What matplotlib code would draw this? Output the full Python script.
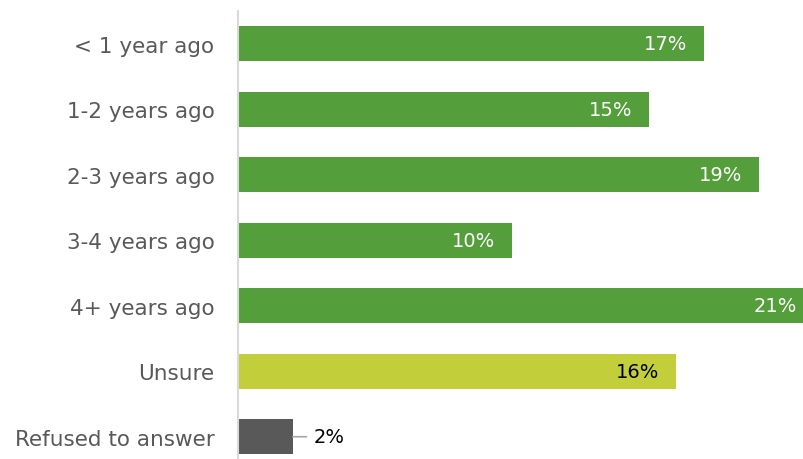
import matplotlib.pyplot as plt

# survey categories and shares (%)
categories = ['< 1 year ago', '1-2 years ago', '2-3 years ago', '3-4 years ago',
              '4+ years ago', 'Unsure', 'Refused to answer']
values = [17, 15, 19, 10, 21, 16, 2]
barColors = ['#549E3B', '#549E3B', '#549E3B', '#549E3B', '#549E3B', '#C3CF3A', '#595959']
labelColors = ['white', 'white', 'white', 'white', 'white', 'black', 'black']

plt.rcParams['font.family'] = ['DejaVu Sans']

fig = plt.figure(figsize=(8.04, 4.6), dpi=100)
ax = fig.add_axes([238/804, 0, 1 - 238/804, 1 - 12/460])

ypos = list(range(len(categories)))
ax.barh(ypos, values, height=0.53, color=barColors)

for y, v, c in zip(ypos, values, labelColors):
    if v >= 5:
        # value inside the bar, right aligned
        ax.annotate(f'{v}%', xy=(v, y), xytext=(-12, 0), textcoords='offset points',
                    ha='right', va='center', fontsize=14, color=c, annotation_clip=False)
    else:
        # small bar: leader line + label outside
        ax.annotate('', xy=(v, y), xytext=(v + 0.5, y),
                    arrowprops=dict(arrowstyle='-', color='#A6A6A6', lw=1.2,
                                    shrinkA=0, shrinkB=0))
        ax.text(v + 0.75, y, f'{v}%', ha='left', va='center', fontsize=14, color=c)

ax.set_xlim(0, (804 - 238) / 27.4)
ax.set_ylim(6.34, -0.5)
ax.set_yticks(ypos)
ax.set_yticklabels(categories, fontsize=15.5, color='#595959')
ax.tick_params(axis='y', length=0, pad=17)
ax.set_xticks([])
for s in ['top', 'right', 'bottom']:
    ax.spines[s].set_visible(False)
ax.spines['left'].set_color('#D9D9D9')
ax.spines['left'].set_linewidth(1.5)

fig.savefig('out.png', dpi=100)
